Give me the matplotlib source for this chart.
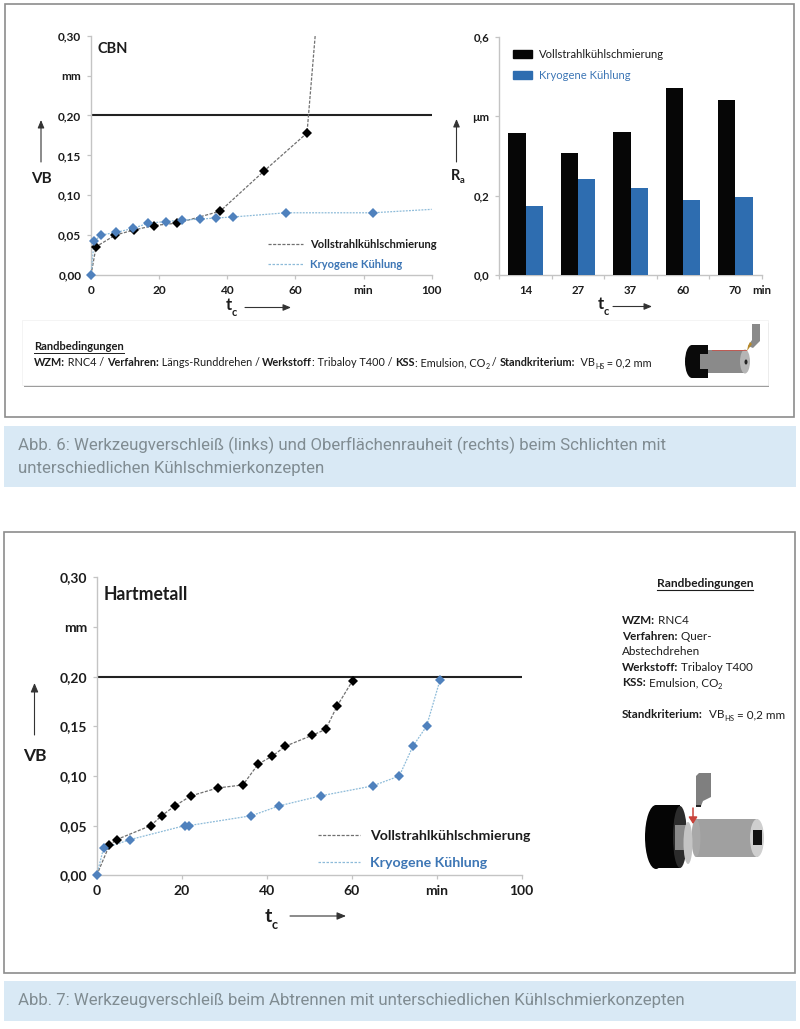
import matplotlib
matplotlib.use("Agg")
import matplotlib.pyplot as plt
from matplotlib.lines import Line2D
from matplotlib.patches import Rectangle, Ellipse, Polygon, Patch, FancyArrowPatch

W, H = 800, 1029
FONT = ["Lato", "DejaVu Sans"]
plt.rcParams["font.family"] = FONT

# ---------- data ----------
cbn_voll_t = [0, 1.5, 7.1, 12.7, 18.4, 25.3, 37.9, 50.7, 63.4]
cbn_voll_vb = [0, .0355, .05, .0565, .062, .065, .08, .13, .178]
cbn_voll_end_t = [65.8]
cbn_voll_end_vb = [.30]
cbn_kryo_t = [0, .9, 2.9, 7.4, 12.4, 16.8, 22, 26.8, 32, 36.6, 41.6, 57.2, 82.7]
cbn_kryo_vb = [0, .042, .05, .0535, .0585, .065, .067, .069, .07, .0715, .0727, .078, .078]
cbn_kryo_end_t = [100]
cbn_kryo_end_vb = [.0823]

ra_cats = ["14", "27", "37", "60", "70"]
ra_voll = [.358, .308, .36, .472, .44]
ra_kryo = [.174, .241, .22, .188, .197]

hm_voll_t = [0, 3, 4.7, 12.7, 15.3, 18.4, 22.2, 28.5, 34.4, 38, 41.3, 44.4, 50.7, 53.9, 56.5, 60.2]
hm_voll_vb = [0, .0305, .036, .05, .06, .07, .08, .088, .091, .112, .12, .13, .141, .147, .17, .196]
hm_kryo_t = [0, 1.6, 7.9, 20.7, 21.6, 36.4, 43, 52.7, 64.9, 71.2, 74.4, 77.6, 80.8]
hm_kryo_vb = [0, .027, .036, .05, .05, .06, .07, .08, .09, .1, .13, .15, .197]

limit_vb = [0.2]
vb_ticks = [0, .05, .10, .15, .20, .25, .30]
vb_labels = ["0,00", "0,05", "0,10", "0,15", "0,20", "mm", "0,30"]
t_ticks = [0, 20, 40, 60, 80, 100]
t_labels = ["0", "20", "40", "60", "min", "100"]
ra_ticks = [0, .2, .4, .6]
ra_labels = ["0,0", "0,2", "µm", "0,6"]
names = ["Vollstrahlkühlschmierung", "Kryogene Kühlung"]

# ---------- colours ----------
AXC = "#c4c4c4"
TXT = "#1c1c1c"
BLUE_M = "#4f81bd"
BLUE_T = "#3d76b5"
BLUE_B = "#2e6db0"
BLUE_L = "#8dbbd9"
GREY_L = "#707070"
CAP_BG = "#d9e9f5"
CAP_T = "#808c92"

fig = plt.figure(figsize=(W / 100, H / 100), dpi=100, facecolor="white")
bg = fig.add_axes([0, 0, 1, 1], zorder=0)
bg.set_xlim(0, W)
bg.set_ylim(H, 0)
bg.axis("off")
top = fig.add_axes([0, 0, 1, 1], zorder=5)
top.set_xlim(0, W)
top.set_ylim(H, 0)
top.axis("off")
top.patch.set_alpha(0)


def make_ax(x0, x1, y_top, y_bot):
    ax = fig.add_axes([x0 / W, 1 - y_bot / H, (x1 - x0) / W, (y_bot - y_top) / H], zorder=3)
    ax.patch.set_alpha(0)
    for s in ("top", "right"):
        ax.spines[s].set_visible(False)
    for s in ("left", "bottom"):
        ax.spines[s].set_color(AXC)
        ax.spines[s].set_linewidth(1.0)
    return ax


def arrow(p0, p1, lw=0.8, scale=1.3):
    top.add_patch(FancyArrowPatch(p0, p1, arrowstyle="-|>,head_length=3.6,head_width=1.5",
                                  mutation_scale=scale, lw=lw, color="#333333", shrinkA=0, shrinkB=0))


def runs(x, y, parts, size, ax=top):
    """Write pieces of text one after another; each is (text, bold) or (text, bold, 'sub')."""
    r = fig.canvas.get_renderer()
    inv = ax.transData.inverted()
    for p in parts:
        sub = len(p) > 2
        t = ax.text(x, y + (size * 0.33 if sub else 0), p[0],
                    fontsize=size * 0.65 if sub else size,
                    fontweight="bold" if p[1] else "normal",
                    color=TXT, va="baseline", ha="left")
        bb = t.get_window_extent(r)
        x = inv.transform((bb.x1, bb.y0))[0]
    return x


def style_vb(ax, fs, xmax=100):
    ax.set_xlim(0, xmax)
    ax.set_ylim(0, .30)
    ax.set_yticks(vb_ticks, vb_labels, fontsize=fs, fontweight="bold", color=TXT)
    ax.set_xticks(t_ticks, t_labels, fontsize=fs, fontweight="bold", color=TXT)
    ax.tick_params(axis="both", length=3, width=0.9, color=AXC, pad=4)
    ax.axhline(limit_vb[0], color="#222222", lw=1.5, zorder=2)


def proxies(fs, loc_px, hl, tp, ls, ax):
    hs = [Line2D([], [], color=GREY_L, lw=0.9, ls=(0, (2.5, 1.2))),
          Line2D([], [], color=BLUE_L, lw=0.9, ls=(0, (2, 1.2)))]
    return ax.legend(hs, names, loc="upper left", bbox_to_anchor=(loc_px[0] / W, 1 - loc_px[1] / H),
                     bbox_transform=fig.transFigure, frameon=False, borderpad=0,
                     borderaxespad=0, handlelength=hl, handletextpad=tp, labelspacing=ls,
                     labelcolor=[TXT, BLUE_T], prop={"weight": "bold", "size": fs})


# ---------- frames and captions ----------
for (x0, y0, x1, y1) in [(5, 4, 794, 417), (4, 532, 795, 973)]:
    bg.add_patch(Rectangle((x0, y0), x1 - x0, y1 - y0, fc="white", ec="#8c8c8c", lw=1.2))
bg.add_patch(Rectangle((4, 426), 792, 61, fc=CAP_BG, ec="none"))
bg.add_patch(Rectangle((4, 981), 792, 40, fc=CAP_BG, ec="none"))
cap = dict(family=["Roboto", "DejaVu Sans"], fontsize=12.1, color=CAP_T, va="center", ha="left")
bg.text(18, 445, "Abb. 6: Werkzeugverschleiß (links) und Oberflächenrauheit (rechts) beim Schlichten mit", **cap)
bg.text(18, 468, "unterschiedlichen Kühlschmierkonzepten", **cap)
bg.text(18, 1001, "Abb. 7: Werkzeugverschleiß beim Abtrennen mit unterschiedlichen Kühlschmierkonzepten", **cap)

# ---------- CBN ----------
ax1 = make_ax(91, 431.7, 35.7, 275)
style_vb(ax1, 8.6)
ax1.plot(cbn_voll_t + cbn_voll_end_t, cbn_voll_vb + cbn_voll_end_vb, color=GREY_L, lw=0.9, ls=(0, (2.5, 1.2)), zorder=3, clip_on=False)
ax1.plot(cbn_kryo_t + cbn_kryo_end_t, cbn_kryo_vb + cbn_kryo_end_vb, color=BLUE_L, lw=0.9, ls=(0, (1.5, 1)), zorder=3, clip_on=False)
ax1.plot(cbn_voll_t[1:], cbn_voll_vb[1:], "D", color="black", ms=4.6, mew=0, zorder=4)
ax1.plot(cbn_kryo_t, cbn_kryo_vb, "D", color=BLUE_M, ms=4.6, mew=0, zorder=5, clip_on=False)
proxies(8.05, (268, 239), 3.15, 0.65, 0.8, ax1)
top.text(97, 49, "CBN", fontsize=10.5, fontweight="bold", color=TXT, va="center")
top.text(41, 179, "VB", fontsize=11, fontweight="bold", color=TXT, ha="center", va="center")
arrow((41, 162), (41, 120))
runs(226, 310, [("t", True)], 12)
runs(232, 312, [("c", True, "sub")], 12)
arrow((245, 307.5), (291, 307.5))

# ---------- Ra bars ----------
ax2 = make_ax(499.3, 761.7, 36.7, 275)
ax2.set_xlim(0, len(ra_cats))
ax2.set_ylim(0, .6)
centres = [i + .5 for i in range(len(ra_cats))]
bw = 0.33
ax2.bar([c - bw / 2 for c in centres], ra_voll, bw, color="#060606", zorder=3)
ax2.bar([c + bw / 2 for c in centres], ra_kryo, bw, color=BLUE_B, zorder=3)
ax2.set_yticks(ra_ticks, ra_labels, fontsize=8.2, fontweight="bold", color=TXT)
ax2.set_xticks(range(len(ra_cats) + 1), [""] * (len(ra_cats) + 1))
for c, lab in zip(centres, ra_cats):
    ax2.annotate(lab, (c, 0), xytext=(0, -11), textcoords="offset points", ha="center", va="center",
                 fontsize=8.2, fontweight="bold", color=TXT)
ax2.tick_params(axis="both", length=3, width=0.9, color=AXC, pad=4)
ax2.legend([Patch(color="#060606"), Patch(color=BLUE_B)], names, loc="upper left",
           bbox_to_anchor=(512.7 / W, 1 - 49 / H), bbox_transform=fig.transFigure, frameon=False,
           borderpad=0, borderaxespad=0, handlelength=1.7, handleheight=0.75, handletextpad=0.62,
           labelspacing=0.85, labelcolor=[TXT, BLUE_T], prop={"size": 8.1})
top.text(752, 290, "min", fontsize=8.2, fontweight="bold", color=TXT, ha="left", va="center")
arrow((456.5, 162), (456.5, 119))
runs(451, 180, [("R", True), ("a", True, "sub")], 10.5)
runs(598, 309, [("t", True)], 12)
runs(604, 311, [("c", True, "sub")], 12)
arrow((613, 306.5), (652, 306.5))

# ---------- boundary box with small lathe ----------
bg.add_patch(Rectangle((24, 323), 745, 63.5, fc="#9d9d9d", ec="none"))
bg.add_patch(Rectangle((22, 320), 746, 65, fc="white", ec="#f2f2f2", lw=0.6))
top.text(34, 350.5, "Randbedingungen", fontsize=8, fontweight="bold", color=TXT, va="baseline")
top.plot([34, 124], [352.5, 352.5], color=TXT, lw=0.7)
runs(34, 366, [("WZM:", True), (" RNC4 / ", False), ("Verfahren:", True), (" Längs-Runddrehen / ", False),
               ("Werkstoff", True), (": Tribaloy T400 / ", False), ("KSS", True), (": Emulsion, CO", False),
               ("2", False, "sub"), (" / ", False), ("Standkriterium:", True), ("  VB", False), ("HS", False, "sub"),
               (" = 0,2 mm", False)], 7.85)
top.add_patch(Rectangle((707, 350), 38, 23, fc="#8a8a8a", ec="none"))
top.add_patch(Ellipse((745, 361.5), 10, 24, fc="#b5b5b5", ec="none"))
top.add_patch(Ellipse((746, 362), 3, 5, fc="#222222", ec="none"))
top.add_patch(Ellipse((692, 361.5), 14, 33, fc="#0a0a0a", ec="none"))
top.add_patch(Rectangle((692, 345), 16, 33, fc="#0a0a0a", ec="none"))
top.add_patch(Rectangle((700, 354), 10, 15, fc="#8a8a8a", ec="none"))
top.plot([712, 746], [350, 350], color="#c8534a", lw=0.6)
top.add_patch(Polygon([(752, 324), (760, 324), (760, 341), (753, 348), (748, 346), (752, 340)], fc="#8a8a8a", ec="none"))
top.add_patch(Polygon([(748, 346), (750, 342), (752, 344), (747, 351)], fc="#b78a2a", ec="none"))

# ---------- Hartmetall ----------
ax3 = make_ax(96.7, 521.7, 577.4, 875.3)
style_vb(ax3, 10)
ax3.plot(hm_voll_t, hm_voll_vb, color=GREY_L, lw=0.9, ls=(0, (2.5, 1.2)), zorder=3)
ax3.plot(hm_kryo_t, hm_kryo_vb, color=BLUE_L, lw=0.9, ls=(0, (1.5, 1)), zorder=3)
ax3.plot(hm_voll_t[1:], hm_voll_vb[1:], "D", color="black", ms=5, mew=0, zorder=4)
ax3.plot(hm_kryo_t, hm_kryo_vb, "D", color=BLUE_M, ms=5, mew=0, zorder=5, clip_on=False)
proxies(10.15, (318, 830), 3.0, 0.7, 1.03, ax3)
top.text(104, 594, "Hartmetall", fontsize=12.7, fontweight="bold", color=TXT, va="center")
top.text(35, 756, "VB", fontsize=12.5, fontweight="bold", color=TXT, ha="center", va="center")
arrow((34.5, 735), (34.5, 683), scale=1.5)
runs(265, 922, [("t", True)], 14)
runs(272, 924, [("c", True, "sub")], 14)
arrow((290, 916), (346, 916), scale=1.5)

# ---------- boundary text right ----------
top.text(656.5, 587, "Randbedingungen", fontsize=8.65, fontweight="bold", color=TXT, va="baseline")
top.plot([656.5, 753], [589.5, 589.5], color=TXT, lw=0.8)
runs(622, 624, [("WZM:", True), (" RNC4", False)], 8.4)
runs(622, 640, [("Verfahren:", True), (" Quer-", False)], 8.4)
runs(622, 655, [("Abstechdrehen", False)], 8.4)
runs(622, 671, [("Werkstoff:", True), (" Tribaloy T400", False)], 8.4)
runs(622, 686, [("KSS:", True), (" Emulsion, CO", False), ("2", False, "sub")], 8.4)
runs(622, 718, [("Standkriterium:", True), ("  VB", False), ("HS", False, "sub"), (" = 0,2 mm", False)], 8.4)

# ---------- lathe picture right ----------
top.add_patch(Polygon([(696, 776), (699, 773), (711, 773), (711, 797), (703, 801), (701, 806), (696, 806)], fc="#7f7f7f", ec="none"))
top.add_patch(Rectangle((696, 805), 5, 2, fc="#222222", ec="none"))
top.add_patch(Rectangle((696, 819), 62, 38, fc="#a0a0a0", ec="none", zorder=1))
top.add_patch(Ellipse((696, 838), 9, 38, fc="#a8a8a8", ec="none", zorder=1))
top.add_patch(Ellipse((757, 838), 14, 38, fc="#cfcfcf", ec="none", zorder=1))
top.add_patch(Rectangle((753, 830), 9, 15, fc="#111111", ec="none", zorder=2))
top.add_patch(Ellipse((656, 837), 22, 64, fc="#050505", ec="none", zorder=1))
top.add_patch(Rectangle((656, 805), 24, 63, fc="#050505", ec="none", zorder=1))
top.add_patch(Ellipse((680, 837), 14, 62, fc="#2c2c2c", ec="none", zorder=1))
top.add_patch(Rectangle((675, 825), 12, 25, fc="#8a8a8a", ec="none", zorder=2))
top.add_patch(Ellipse((688, 843), 9, 42, fc="#c4c4c4", ec="none", zorder=2))
top.add_patch(FancyArrowPatch((693, 808), (693, 824), arrowstyle="-|>,head_length=2.5,head_width=1.6",
                              mutation_scale=1.6, lw=1.1, color="#c9423a", shrinkA=0, shrinkB=0, zorder=3))

fig.savefig("out.png", dpi=100)
